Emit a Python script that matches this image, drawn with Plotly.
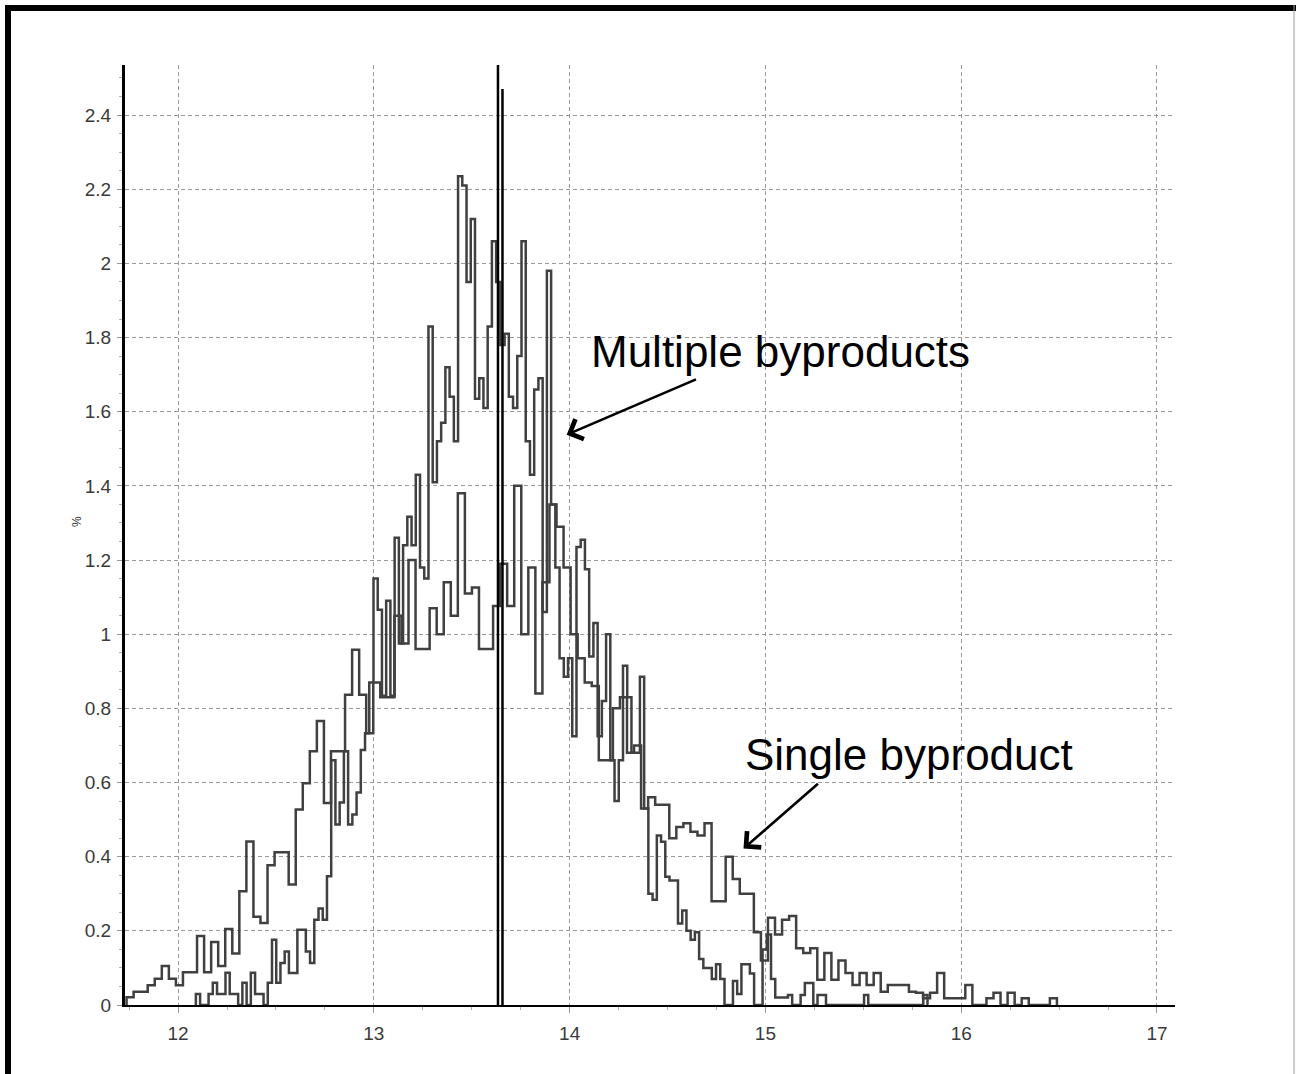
import plotly.graph_objects as go

# ---------------- data ----------------
single_start = 11.737
single_width = 0.036
single_values = [
    0.021, 0.036, 0.036, 0.053, 0.071, 0.105, 0.071, 0.053, 0.088, 0.088,
    0.186, 0.088, 0.170, 0.105, 0.205, 0.139, 0.307, 0.441, 0.238, 0.221,
    0.377, 0.412, 0.412, 0.325, 0.527, 0.598, 0.684, 0.766, 0.545, 0.684,
    0.684, 0.837, 0.958, 0.837, 0.733, 0.870, 0.830, 0.830, 1.050, 0.975,
    1.200, 0.960, 0.960, 1.070, 1.000, 1.140, 1.050, 1.380, 1.110, 1.126,
    0.960, 0.960, 1.076, 1.190, 1.076, 1.400, 1.000, 1.180, 0.840, 1.140,
    1.350, 1.290, 1.180, 1.000, 0.935, 0.870, 0.860, 0.660, 0.660, 0.800,
    0.830, 0.680, 0.700, 0.530, 0.560, 0.540, 0.540, 0.450, 0.480, 0.490,
    0.467, 0.457, 0.490, 0.280, 0.280, 0.400, 0.340, 0.300, 0.300, 0.196,
    0.120, 0.235, 0.190, 0.230, 0.240, 0.153, 0.140, 0.153, 0.068, 0.140,
    0.068, 0.120, 0.086, 0.054, 0.086, 0.054, 0.086, 0.036, 0.054, 0.054,
    0.054, 0.036, 0.033, 0.018, 0.033, 0.086, 0.018, 0.018, 0.018, 0.054,
    0.000, 0.000, 0.018, 0.033, 0.000, 0.033, 0.000, 0.018, 0.000, 0.000,
    0.000, 0.018,
]

multi_start = 12.091
multi_width = 0.0216
multi_values = [
    0.030, 0.000, 0.000, 0.030, 0.060, 0.030, 0.030, 0.087, 0.030, 0.030,
    0.000, 0.060, 0.000, 0.087, 0.030, 0.030, 0.000, 0.060, 0.176, 0.060,
    0.113, 0.144, 0.086, 0.086, 0.203, 0.203, 0.144, 0.113, 0.230, 0.260,
    0.230, 0.347, 0.660, 0.487, 0.546, 0.684, 0.487, 0.514, 0.573, 0.688,
    0.733, 0.870, 1.150, 1.066, 0.834, 1.090, 0.834, 1.260, 0.975, 1.240,
    1.317, 1.240, 1.430, 1.180, 1.150, 1.830, 1.410, 1.520, 1.570, 1.720,
    1.640, 1.520, 2.235, 2.210, 1.950, 2.120, 1.635, 1.690, 1.610, 1.830,
    2.060, 1.950, 1.780, 1.810, 1.640, 1.610, 1.750, 2.060, 1.520, 1.430,
    1.660, 1.690, 1.060, 1.980, 1.350, 1.180, 0.935, 0.885, 0.935, 0.725,
    1.235, 1.255, 1.175, 0.940, 1.030, 0.725, 0.820, 1.000, 0.660, 0.550,
    0.660, 0.915, 0.830, 0.680, 0.680, 0.885, 0.530, 0.300, 0.284, 0.457,
    0.440, 0.346, 0.336, 0.336, 0.220, 0.255, 0.200, 0.176, 0.196, 0.124,
    0.100, 0.100, 0.070, 0.110, 0.070, 0.000, 0.000, 0.065, 0.030, 0.110,
    0.110, 0.085, 0.000, 0.000, 0.150, 0.190, 0.070, 0.020, 0.020, 0.020,
    0.027, 0.000, 0.000, 0.027, 0.059, 0.059, 0.000, 0.027, 0.027, 0.000,
    0.000, 0.000, 0.000, 0.000, 0.000, 0.000, 0.000, 0.000, 0.027, 0.000,
    0.000, 0.000, 0.000, 0.000, 0.000, 0.000, 0.000, 0.000, 0.000, 0.000,
    0.000, 0.000, 0.027,
]

marker_x = [13.634, 13.657]
marker_top = [2.535, 2.47]

x_ticks = [12, 13, 14, 15, 16, 17]
y_ticks = [0, 0.2, 0.4, 0.6, 0.8, 1.0, 1.2, 1.4, 1.6, 1.8, 2.0, 2.2, 2.4]
y_tick_labels = ["0", "0.2", "0.4", "0.6", "0.8", "1", "1.2", "1.4",
                 "1.6", "1.8", "2", "2.2", "2.4"]
label_texts = ["Multiple byproducts", "Single byproduct"]


def step_xy(start, width, values):
    edges = [start + k * width for k in range(len(values) + 1)]
    xs = [edges[0]] + edges[:-1] + [edges[-1]]
    ys = [0] + list(values) + [0]
    return xs, ys


fig = go.Figure()
line_col = "#404040"
for start, width, vals in [(single_start, single_width, single_values),
                           (multi_start, multi_width, multi_values)]:
    xs, ys = step_xy(start, width, vals)
    fig.add_trace(go.Scatter(x=xs, y=ys, mode="lines", line_shape="hv",
                             line=dict(color=line_col, width=2.5),
                             hoverinfo="skip"))

for mx, top in zip(marker_x, marker_top):
    fig.add_trace(go.Scatter(x=[mx, mx], y=[0, top], mode="lines",
                             line=dict(color="black", width=2.5),
                             hoverinfo="skip"))

W, H = 1296, 1074
L, R, T, B = 125, 121, 65, 69
pw, ph = W - L - R, H - T - B


def px(xp):
    return (xp - L) / pw


def py(yp):
    return (H - B - yp) / ph


shapes = [
    # left frame bar
    dict(type="rect", xref="paper", yref="paper", x0=px(5), x1=px(11),
         y0=py(1074), y1=py(5), fillcolor="black", line=dict(width=0)),
    # top frame bar
    dict(type="rect", xref="paper", yref="paper", x0=px(5), x1=px(1296),
         y0=py(11), y1=py(5), fillcolor="black", line=dict(width=0)),
    # right thin frame line
    dict(type="line", xref="paper", yref="paper", x0=px(1294), x1=px(1294),
         y0=py(1074), y1=py(5), line=dict(color="#9a9a9a", width=1)),
]

annotations = [
    dict(x=14.100, y=1.762, xref="x", yref="y", text=label_texts[0],
         showarrow=False, xanchor="left", yanchor="middle",
         font=dict(size=44, color="black", family="Liberation Sans, Arial")),
    dict(x=14.885, y=0.676, xref="x", yref="y", text=label_texts[1],
         showarrow=False, xanchor="left", yanchor="middle",
         font=dict(size=44, color="black", family="Liberation Sans, Arial")),
    dict(x=13.985, y=1.538, ax=14.653, ay=1.689, xref="x", yref="y",
         axref="x", ayref="y", text="", showarrow=True, arrowhead=4,
         arrowsize=1.6, arrowwidth=2.6, arrowcolor="black"),
    dict(x=14.888, y=0.422, ax=15.276, ay=0.600, xref="x", yref="y",
         axref="x", ayref="y", text="", showarrow=True, arrowhead=4,
         arrowsize=1.6, arrowwidth=2.6, arrowcolor="black"),
    dict(x=px(77), y=py(522), xref="paper", yref="paper", text="%",
         showarrow=False, textangle=-90, xanchor="center", yanchor="middle",
         font=dict(size=12, color="#333")),
]

fig.update_layout(
    width=W, height=H, autosize=False,
    margin=dict(l=L, r=R, t=T, b=B, pad=0),
    paper_bgcolor="white", plot_bgcolor="white",
    showlegend=False,
    font=dict(family="Liberation Sans, Arial", color="#333"),
    shapes=shapes, annotations=annotations,
    xaxis=dict(range=[11.729, 17.092], tickvals=x_ticks,
               ticktext=[str(v) for v in x_ticks],
               showgrid=True, gridcolor="#9a9a9a", griddash="4px,3px", gridwidth=1,
               showline=True, linecolor="black", linewidth=2,
               ticks="outside", ticklen=6, tickcolor="#999", tickwidth=1,
               minor=dict(dtick=0.25, tick0=0, ticks="outside", ticklen=3,
                          tickcolor="#aaa", showgrid=False),
               tickfont=dict(size=19, color="#3a3a3a"),
               ticklabelstandoff=4,
               zeroline=False, fixedrange=True),
    yaxis=dict(range=[0, 2.535], tickvals=y_ticks, ticktext=y_tick_labels,
               showgrid=True, gridcolor="#9a9a9a", griddash="4px,3px", gridwidth=1,
               showline=True, linecolor="black", linewidth=3,
               ticks="outside", ticklen=5, tickcolor="#999", tickwidth=1,
               minor=dict(dtick=0.05, tick0=0, ticks="outside", ticklen=3,
                          tickcolor="#aaa", showgrid=False),
               tickfont=dict(size=19, color="#3a3a3a"),
               ticklabelstandoff=2,
               zeroline=False, fixedrange=True),
)

fig.write_html("out.html")
